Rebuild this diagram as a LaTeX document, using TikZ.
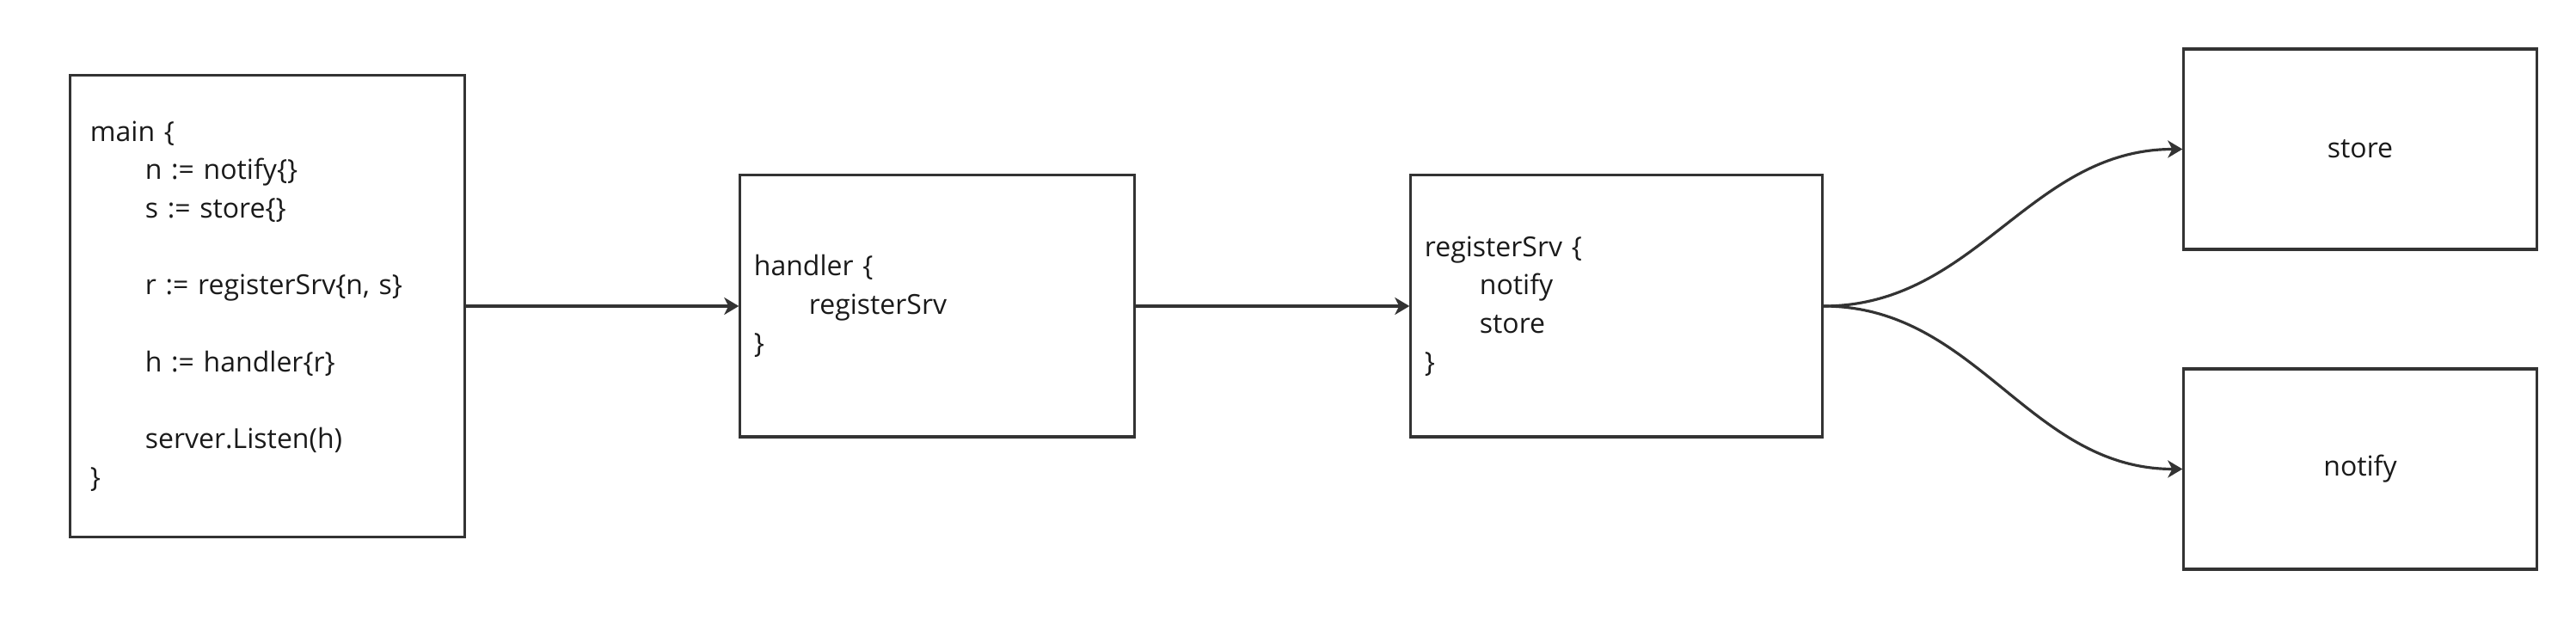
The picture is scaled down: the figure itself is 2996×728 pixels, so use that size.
\documentclass[tikz,border=0pt]{standalone}
\usepackage{fontspec}
\setmainfont{Open Sans}
\usepackage{xcolor}
\usetikzlibrary{arrows.meta}
\definecolor{edge}{HTML}{333333}
\definecolor{ink}{HTML}{1A1A1A}
\newcommand{\ind}{\hspace*{0.64cm}}

\tikzset{
    block/.style={draw=edge, line width=0.9pt, rectangle, text=ink,
        font=\fontsize{9.1pt}{12.7pt}\selectfont, inner xsep=0.16cm},
    code/.style={block, align=left},
    conn/.style={draw=edge, line width=0.9pt, -{Stealth[length=0.17cm, width=0.2cm, inset=0.05cm]}}
}

\begin{document}
\begin{tikzpicture}[x=0.01cm, y=-0.01cm]
        \useasboundingbox (0, 0) rectangle (2996, 728);
        \node[code, minimum width=4.58cm, minimum height=5.36cm, inner xsep=0.23cm, text width=4.12cm] (main) at (311, 356)
            {main \{\\ \ind n := notify\{\}\\ \ind s := store\{\}\\[12.7pt] \ind r := registerSrv\{n, s\}\\[12.7pt] \ind h := handler\{r\}\\[12.7pt] \ind server.Listen(h)\\ \}};
        \node[code, minimum width=4.58cm, minimum height=3.04cm, text width=4.26cm] (handler) at (1090, 356)
            {handler \{\\ \ind registerSrv\\ \}};
        \node[code, minimum width=4.78cm, minimum height=3.04cm, text width=4.46cm] (reg) at (1880, 356)
            {registerSrv \{\\ \ind notify\\ \ind store\\ \}};
        \node[block, minimum width=4.10cm, minimum height=2.33cm] (store) at (2745, 173.5) {store};
        \node[block, minimum width=4.10cm, minimum height=2.33cm] (notify) at (2745, 545.5) {notify};
        \draw[conn] (main.east) -- (handler.west);
        \draw[conn] (handler.east) -- (reg.west);
        \draw[conn] (reg.east) to[out=0, in=180] (store.west);
        \draw[conn] (reg.east) to[out=0, in=180] (notify.west);
    \end{tikzpicture}
\end{document}
